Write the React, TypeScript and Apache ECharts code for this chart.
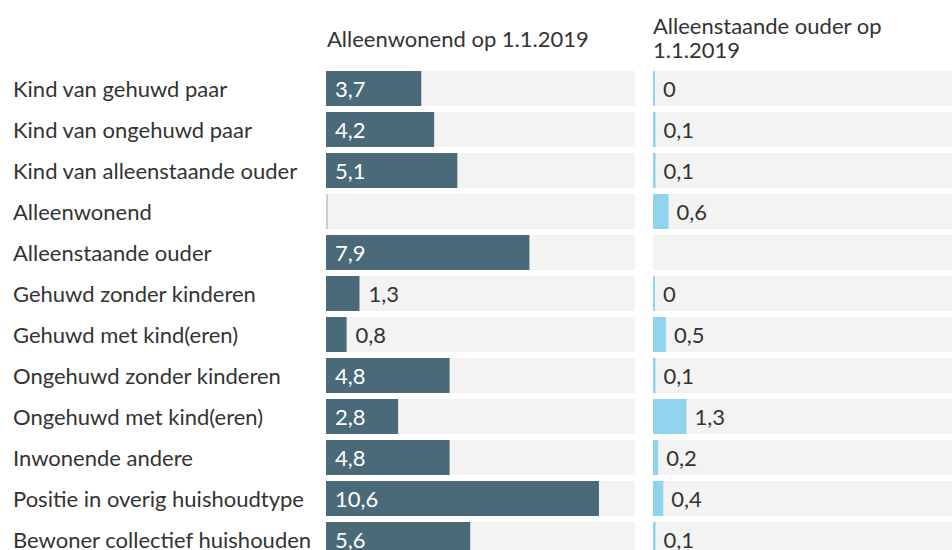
import React, { useEffect, useRef } from "react";
import * as echarts from "echarts";

const categories = [
  "Kind van gehuwd paar",
  "Kind van ongehuwd paar",
  "Kind van alleenstaande ouder",
  "Alleenwonend",
  "Alleenstaande ouder",
  "Gehuwd zonder kinderen",
  "Gehuwd met kind(eren)",
  "Ongehuwd zonder kinderen",
  "Ongehuwd met kind(eren)",
  "Inwonende andere",
  "Positie in overig huishoudtype",
  "Bewoner collectief huishouden",
];
// null = no value shown (thin marker only / nothing)
const alleenwonend: (number | null)[] = [3.7, 4.2, 5.1, null, 7.9, 1.3, 0.8, 4.8, 2.8, 4.8, 10.6, 5.6];
const alleenstaandeOuder: (number | null)[] = [0, 0.1, 0.1, 0.6, null, 0, 0.5, 0.1, 1.3, 0.2, 0.4, 0.1];
const titles = ["Alleenwonend op 1.1.2019", "Alleenstaande ouder op\n1.1.2019"];

const FONT = "Lato, 'Open Sans', sans-serif";
const FS = 22;
const DARK = "#4a6a7a";
const LIGHT = "#8fd3ee";
const TEXT = "#333333";

const fmt = (v: number) => String(v).replace(".", ",");

export default function App() {
  const ref = useRef<HTMLDivElement>(null);
  useEffect(() => {
    if (!ref.current) return;
    const chart = echarts.init(ref.current, null, { renderer: "svg" });

    const leftData = alleenwonend.map((v) => {
      if (v === null) {
        return { value: 0, itemStyle: { color: "#c6d0d7" }, label: { show: false } };
      }
      const inside = v >= 2;
      return {
        value: v,
        label: {
          show: true,
          position: inside ? "insideLeft" : "right",
          distance: 9,
          color: inside ? "#ffffff" : TEXT,
        },
      };
    });
    const rightData = alleenstaandeOuder.map((v) => {
      if (v === null) return { value: "-" as any, label: { show: false } };
      return {
        value: v,
        label: { show: true, position: "right", distance: 8, color: TEXT },
      };
    });

    const top = 68;
    const pitch = 41;
    const h = pitch * categories.length;

    chart.setOption({
      animation: false,
      textStyle: { fontFamily: FONT },
      title: [
        {
          text: titles[0],
          left: 327,
          top: 27,
          padding: 0,
          textStyle: { fontFamily: FONT, fontSize: FS, fontWeight: "normal", color: TEXT },
        },
        {
          text: titles[1],
          left: 653,
          top: 13,
          padding: 0,
          textStyle: { fontFamily: FONT, fontSize: FS, fontWeight: "normal", color: TEXT, lineHeight: 24 },
        },
      ],
      grid: [
        { left: 326, width: 309, top, height: h, outerBoundsMode: "none", containLabel: false },
        { left: 653, width: 309, top, height: h, outerBoundsMode: "none", containLabel: false },
      ],
      xAxis: [0, 1].map((i) => ({
        type: "value",
        gridIndex: i,
        min: 0,
        max: 12,
        show: false,
      })),
      yAxis: [0, 1].map((i) => ({
        type: "category",
        gridIndex: i,
        data: categories,
        inverse: true,
        axisLine: { show: false },
        axisTick: { show: false },
        axisLabel: {
          show: i === 0,
          align: "left",
          margin: 313,
          fontFamily: FONT,
          fontSize: FS,
          color: TEXT,
        },
      })),
      series: [
        {
          type: "bar",
          xAxisIndex: 0,
          yAxisIndex: 0,
          data: leftData,
          barWidth: 35,
          barMinHeight: 2,
          itemStyle: { color: DARK },
          showBackground: true,
          backgroundStyle: { color: "#f3f3f3" },
          label: { fontFamily: FONT, fontSize: FS, formatter: (p: any) => fmt(p.value) },
        },
        {
          type: "bar",
          xAxisIndex: 1,
          yAxisIndex: 1,
          data: rightData,
          barWidth: 35,
          barMinHeight: 2,
          itemStyle: { color: LIGHT },
          showBackground: true,
          backgroundStyle: { color: "#f3f3f3" },
          label: { fontFamily: FONT, fontSize: FS, formatter: (p: any) => fmt(p.value) },
        },
      ],
    });
    return () => chart.dispose();
  }, []);
  return (
    <div
      ref={ref}
      style={{ position: "fixed", left: 0, top: 0, width: 952, height: 550, background: "#fff" }}
    />
  );
}
